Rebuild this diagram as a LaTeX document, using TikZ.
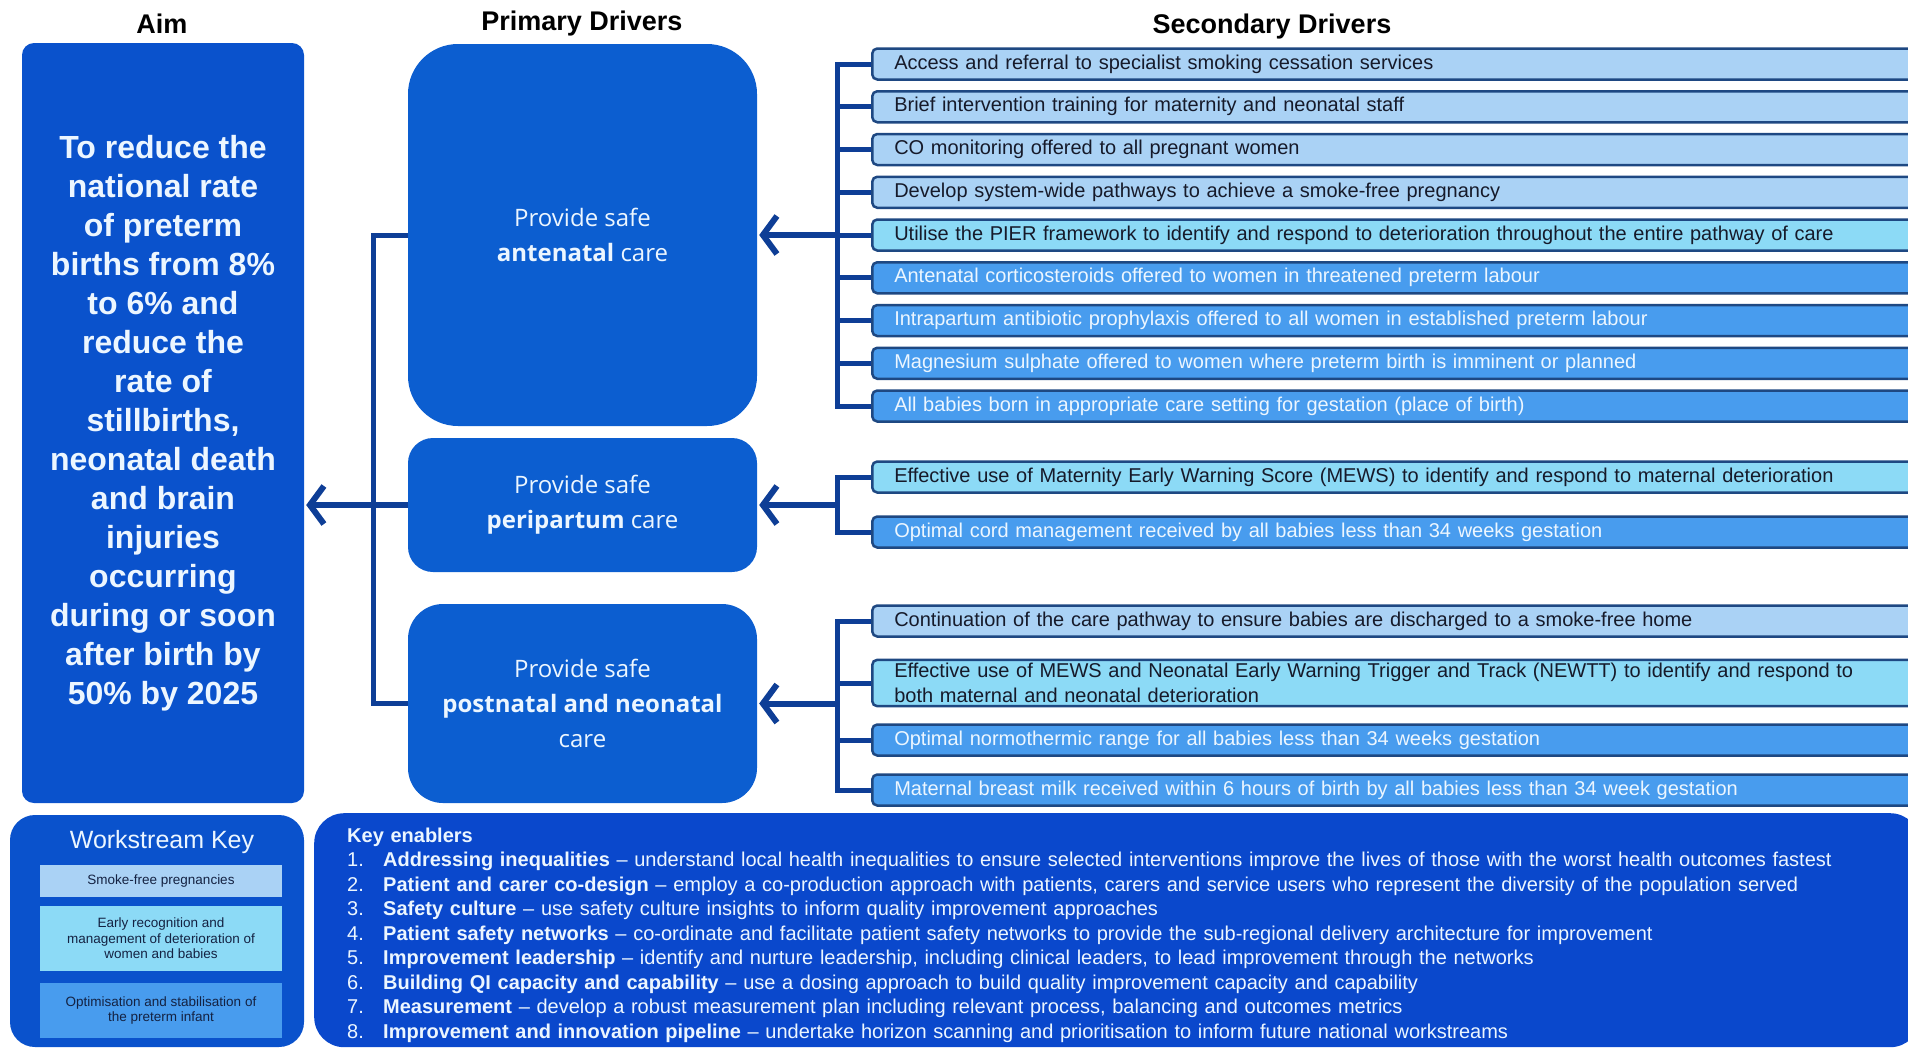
\documentclass[tikz,border=0pt]{standalone}
\usepackage{fontspec}
\setmainfont{Liberation Sans}
\newfontfamily\driverfont{Open Sans}
\usetikzlibrary{arrows.meta, positioning}
\definecolor{aimcolor}{RGB}{10,82,204}
\definecolor{primcolor}{RGB}{12,94,208}
\definecolor{enablercolor}{RGB}{10,72,204}
\definecolor{linkcolor}{RGB}{14,62,150}
\definecolor{edgecolor}{RGB}{30,72,130}
\definecolor{smokecolor}{RGB}{170,210,245}
\definecolor{detercolor}{RGB}{140,218,246}
\definecolor{pretermcolor}{RGB}{72,156,238}
\definecolor{paletext}{RGB}{236,246,255}
\definecolor{darktext}{RGB}{22,26,42}

\begin{document}
\begin{tikzpicture}[
    x=1pt, y=-1pt,
    head/.style={font=\bfseries\fontsize{27}{30}\selectfont},
    primbox/.style={fill=primcolor, text=paletext, minimum width=349pt, align=center, font=\driverfont\fontsize{24}{35}\selectfont},
    secbox/.style={draw=edgecolor, line width=2.5pt, fill=#1, rounded corners=5pt, anchor=west, text width=1030pt, inner xsep=22pt, minimum height=31pt, align=left, text=darktext, font=\fontsize{20}{25}\selectfont},
    pretermbox/.style={secbox=pretermcolor, text=paletext},
    keybox/.style={fill=#1, minimum width=242pt, align=center, text=darktext!85!aimcolor, font=\fontsize{13.5}{15.5}\selectfont},
    link/.style={draw=linkcolor, line width=5pt},
    arrow/.style={draw=linkcolor, line width=6pt, -{Straight Barb[length=14pt,width=38pt]}, shorten >=2pt}
]
    \useasboundingbox (0,0) rectangle (1908,1050);
    \clip (0,0) rectangle (1908,1050);

    % Column headings
    \node[head] (aimhead) at (162,24) {Aim};
    \node[head] (primhead) at (582,24) {Primary Drivers};
    \node[head] (sechead) at (1272,27) {Secondary Drivers};

    % Aim
    \node[fill=aimcolor, rounded corners=12pt, minimum width=282pt, minimum height=760pt, text=paletext, align=center, font=\bfseries\fontsize{32}{39}\selectfont] (aim) at (163,423)
        {To reduce the\\national rate\\of preterm\\births from 8\%\\to 6\% and\\reduce the\\rate of\\stillbirths,\\neonatal death\\and brain\\injuries\\occurring\\during or soon\\after birth by\\50\% by 2025};

    % Primary drivers
    \node[primbox, rounded corners=50pt, minimum height=382pt] (ante) at (582.5,235) {Provide safe\\\textbf{antenatal} care};
    \node[primbox, rounded corners=25pt, minimum height=134pt] (peri) at (582.5,505) {Provide safe\\\textbf{peripartum} care};
    \node[primbox, rounded corners=35pt, minimum height=199pt] (post) at (582.5,703.5) {Provide safe\\\textbf{postnatal and neonatal}\\care};

    % Secondary drivers
    \node[secbox=smokecolor] (a1) at (871,64) {Access and referral to specialist smoking cessation services};
    \node[secbox=smokecolor] (a2) at (871,106.75) {Brief intervention training for maternity and neonatal staff};
    \node[secbox=smokecolor] (a3) at (871,149.5) {CO monitoring offered to all pregnant women};
    \node[secbox=smokecolor] (a4) at (871,192.25) {Develop system-wide pathways to achieve a smoke-free pregnancy};
    \node[secbox=detercolor] (a5) at (871,235) {Utilise the PIER framework to identify and respond to deterioration throughout the entire pathway of care};
    \node[pretermbox] (a6) at (871,277.75) {Antenatal corticosteroids offered to women in threatened preterm labour};
    \node[pretermbox] (a7) at (871,320.5) {Intrapartum antibiotic prophylaxis offered to all women in established preterm labour};
    \node[pretermbox] (a8) at (871,363.25) {Magnesium sulphate offered to women where preterm birth is imminent or planned};
    \node[pretermbox] (a9) at (871,406) {All babies born in appropriate care setting for gestation (place of birth)};

    \node[secbox=detercolor] (p1) at (871,477) {Effective use of Maternity Early Warning Score (MEWS) to identify and respond to maternal deterioration};
    \node[pretermbox] (p2) at (871,532) {Optimal cord management received by all babies less than 34 weeks gestation};

    \node[secbox=smokecolor] (n1) at (871,621) {Continuation of the care pathway to ensure babies are discharged to a smoke-free home};
    \node[secbox=detercolor] (n2) at (871,683) {Effective use of MEWS and Neonatal Early Warning Trigger and Track (NEWTT) to identify and respond to\\both maternal and neonatal deterioration};
    \node[pretermbox] (n3) at (871,740) {Optimal normothermic range for all babies less than 34 weeks gestation};
    \node[pretermbox] (n4) at (871,790) {Maternal breast milk received within 6 hours of birth by all babies less than 34 week gestation};

    % Brackets
    \coordinate[right=80pt of ante.east] (antebr);
    \coordinate[right=80pt of peri.east] (peribr);
    \coordinate[right=80pt of post.east] (postbr);
    \foreach \s in {a1,a2,a3,a4,a5,a6,a7,a8,a9}
        \draw[link] (\s.west) -| (antebr);
    \foreach \s in {p1,p2}
        \draw[link] (\s.west) -| (peribr);
    \foreach \s in {n1,n2,n3,n4}
        \draw[link] (\s.west) -| (postbr);
    \draw[arrow] (antebr) -- (ante.east);
    \draw[arrow] (peribr) -- (peri.east);
    \draw[arrow] (postbr) -- (post.east);

    % Primary drivers to aim
    \coordinate[left=34pt of ante.west] (spine);
    \draw[link] (ante.west) -- (spine) |- (post.west);
    \draw[arrow] (peri.west) -- (aim.east |- peri.west);

    % Workstream key
    \node[fill=aimcolor, rounded corners=25pt, minimum width=294pt, minimum height=232pt] (keyframe) at (157,931) {};
    \node[text=paletext, font=\fontsize{25}{28}\selectfont] (keytitle) at (162,842) {Workstream Key};
    \node[keybox=smokecolor, minimum height=32pt] (keysmoke) at (161,881) {Smoke-free pregnancies};
    \node[keybox=detercolor, minimum height=65pt] (keydeter) at (161,938.5) {Early recognition and\\management of deterioration of\\women and babies};
    \node[keybox=pretermcolor, minimum height=55pt] (keypreterm) at (161,1010.5) {Optimisation and stabilisation of\\the preterm infant};

    % Key enablers
    \node[fill=enablercolor, rounded corners=30pt, anchor=north west, minimum width=1591pt, minimum height=234pt, text width=1540pt, inner xsep=33pt, align=left, text=paletext, font=\fontsize{20}{24.5}\selectfont] (enablers) at (314,813)
        {\rule{0pt}{24pt}\textbf{Key enablers}\\
        \makebox[36pt][l]{1.}\textbf{Addressing inequalities} -- understand local health inequalities to ensure selected interventions improve the lives of those with the worst health outcomes fastest\\
        \makebox[36pt][l]{2.}\textbf{Patient and carer co-design} -- employ a co-production approach with patients, carers and service users who represent the diversity of the population served\\
        \makebox[36pt][l]{3.}\textbf{Safety culture} -- use safety culture insights to inform quality improvement approaches\\
        \makebox[36pt][l]{4.}\textbf{Patient safety networks} -- co-ordinate and facilitate patient safety networks to provide the sub-regional delivery architecture for improvement\\
        \makebox[36pt][l]{5.}\textbf{Improvement leadership} -- identify and nurture leadership, including clinical leaders, to lead improvement through the networks\\
        \makebox[36pt][l]{6.}\textbf{Building QI capacity and capability} -- use a dosing approach to build quality improvement capacity and capability\\
        \makebox[36pt][l]{7.}\textbf{Measurement} -- develop a robust measurement plan including relevant process, balancing and outcomes metrics\\
        \makebox[36pt][l]{8.}\textbf{Improvement and innovation pipeline} -- undertake horizon scanning and prioritisation to inform future national workstreams};
\end{tikzpicture}
\end{document}
